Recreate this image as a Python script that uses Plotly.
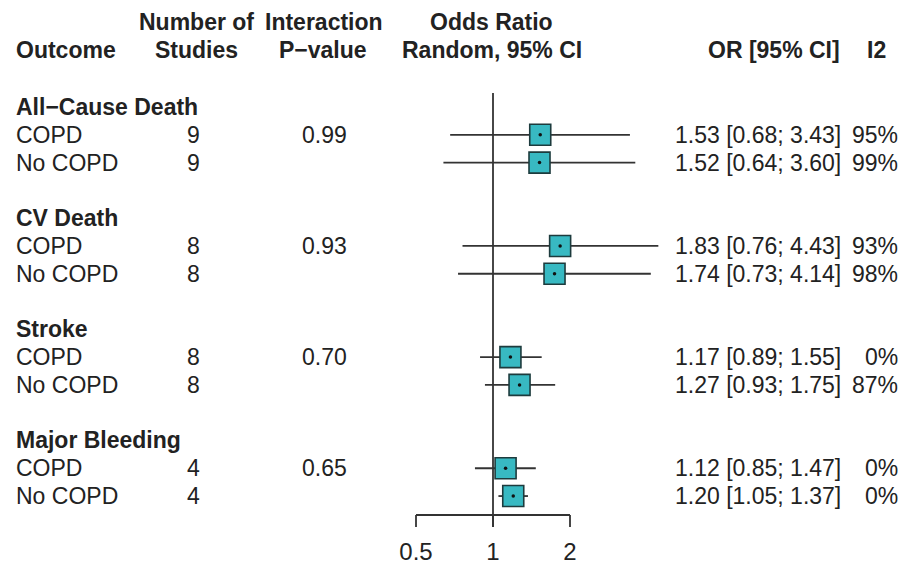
import plotly.graph_objects as go

# ---- data ----
outcomes = ["All−Cause Death", "CV Death", "Stroke", "Major Bleeding"]
subgroups = ["COPD", "No COPD"]
n_studies = [9, 9, 8, 8, 8, 8, 4, 4]
p_interaction = ["0.99", "0.93", "0.70", "0.65"]
or_est = [1.53, 1.52, 1.83, 1.74, 1.17, 1.27, 1.12, 1.20]
ci_lo = [0.68, 0.64, 0.76, 0.73, 0.89, 0.93, 0.85, 1.05]
ci_hi = [3.43, 3.60, 4.43, 4.14, 1.55, 1.75, 1.47, 1.37]
i2 = [95, 99, 93, 98, 0, 87, 0, 0]
axis_ticks = [0.5, 1, 2]
axis_tick_labels = ["0.5", "1", "2"]

W, H = 903, 565
FONT = "Liberation Sans"
FS = 23
TXT = "#222222"
LINE = "#333333"

ROW0, STEP = 107, 27.79   # pixel y of row 0 and row spacing (reference)

def krow(py):
    return (py - ROW0) / STEP

# row layout (row index units)
group_rows = [0, 4, 8, 12]
sub_rows = []
for g in group_rows:
    sub_rows += [g + 1, g + 2]

fig = go.Figure()

# CI lines
xs, ys = [], []
for lo, hi, r in zip(ci_lo, ci_hi, sub_rows):
    xs += [lo, hi, None]
    ys += [r, r, None]
fig.add_trace(go.Scatter(x=xs, y=ys, mode="lines",
                         line=dict(color=LINE, width=1.8),
                         hoverinfo="skip", showlegend=False))

# reference line at OR = 1
fig.add_trace(go.Scatter(x=[1, 1], y=[krow(93), krow(527)], mode="lines",
                         line=dict(color=LINE, width=1.8),
                         hoverinfo="skip", showlegend=False))

# x axis (custom drawn)
ax_y = krow(515)
tick_end = krow(527)
axx = [axis_ticks[0], axis_ticks[-1], None]
axy = [ax_y, ax_y, None]
for t in axis_ticks:
    axx += [t, t, None]
    axy += [ax_y, tick_end, None]
fig.add_trace(go.Scatter(x=axx, y=axy, mode="lines",
                         line=dict(color=LINE, width=1.8),
                         hoverinfo="skip", showlegend=False))
fig.add_trace(go.Scatter(x=axis_ticks, y=[krow(554)] * len(axis_ticks), mode="text",
                         text=axis_tick_labels,
                         textfont=dict(family=FONT, size=24, color=TXT),
                         hoverinfo="skip", showlegend=False, cliponaxis=False))

# squares
fig.add_trace(go.Scatter(x=or_est, y=sub_rows, mode="markers",
                         marker=dict(symbol="square", size=21, color="#38b9c2",
                                     line=dict(color="#1d3b3d", width=1.6)),
                         hoverinfo="skip", showlegend=False))
fig.add_trace(go.Scatter(x=or_est, y=sub_rows, mode="markers",
                         marker=dict(symbol="circle", size=3.5, color="#111111"),
                         hoverinfo="skip", showlegend=False))

# ---- text columns ----
ann = []

def px(x):
    return x / W

def add(text, x, y, anchor="center", bold=False):
    ann.append(dict(text=f"<b>{text}</b>" if bold else text,
                    x=px(x), xref="paper", y=y, yref="y",
                    xanchor=anchor, yanchor="middle", showarrow=False,
                    font=dict(family=FONT, size=FS, color=TXT)))

h1, h2 = krow(22), krow(50)
add("Outcome", 14, h2, "left", True)
add("Number of", 196, h1, "center", True)
add("Studies", 196, h2, "center", True)
add("Interaction", 324, h1, "center", True)
add("P−value", 323, h2, "center", True)
add("Odds Ratio", 491, h1, "center", True)
add("Random, 95% CI", 492, h2, "center", True)
add("OR [95% CI]", 842, h2, "right", True)
add("I2", 888, h2, "right", True)

for gi, (name, g) in enumerate(zip(outcomes, group_rows)):
    add(name, 14, g, "left", True)
    add(p_interaction[gi], 324, g + 1, "center")

for i, r in enumerate(sub_rows):
    add(subgroups[i % 2], 14, r, "left")
    add(str(n_studies[i]), 193, r, "center")
    add(f"{or_est[i]:.2f} [{ci_lo[i]:.2f}; {ci_hi[i]:.2f}]", 843, r, "right")
    add(f"{i2[i]}%", 900, r, "right")

# x axis: OR=1 at pixel 493, 255.8 px per decade (reference)
PX_DEC = 154 / 0.60206
x_left = -493 / PX_DEC
x_right = (W - 493) / PX_DEC

fig.update_layout(
    width=W, height=H,
    margin=dict(l=0, r=0, t=0, b=0),
    paper_bgcolor="white", plot_bgcolor="white",
    annotations=ann,
    xaxis=dict(type="log", range=[x_left, x_right], visible=False,
               showgrid=False, zeroline=False, domain=[0, 1]),
    yaxis=dict(range=[krow(H), krow(0)], visible=False,
               showgrid=False, zeroline=False, domain=[0, 1]),
    showlegend=False,
)

fig.write_html(
    "out.html",
    config={"displayModeBar": False},
    post_script="document.body.style.margin='0';document.body.style.overflow='hidden';",
)
